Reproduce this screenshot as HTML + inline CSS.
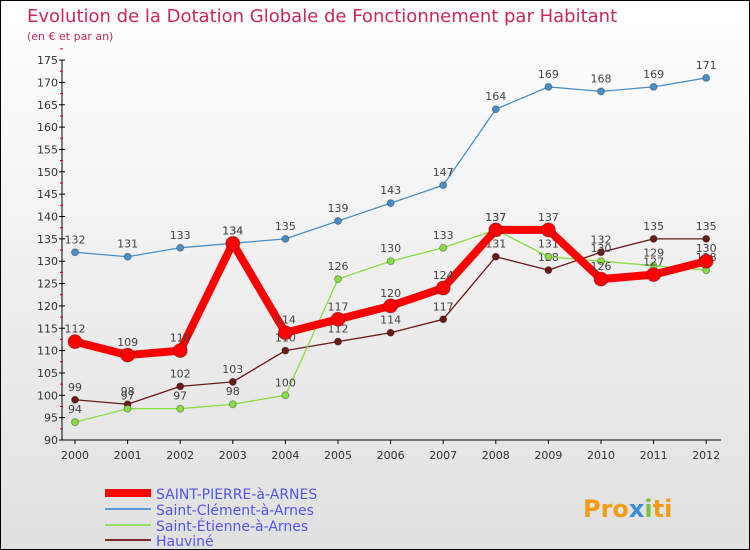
<!DOCTYPE html>
<html><head><meta charset="utf-8"><style>
body{margin:0}
#wrap{width:748px;height:548px;border:1px solid #000;position:relative;background:linear-gradient(#fff,#e0e0e0);font-family:"DejaVu Sans","Liberation Sans",sans-serif;overflow:hidden}
</style></head><body>
<div id="wrap">
<svg width="748" height="548" id="svg">
<text x="26" y="21" font-size="18" fill="#c8285a">Evolution de la Dotation Globale de Fonctionnement par Habitant</text>
<text x="26" y="39" font-size="11" fill="#c8285a">(en € et par an)</text>
<g id="axes"></g><g id="series"></g>
<g>
<line x1="104" y1="492" x2="150" y2="492" stroke="#f00" stroke-width="8"/>
<text x="155" y="498" font-size="14" fill="#5555ee">SAINT-PIERRE-à-ARNES</text>
<line x1="104" y1="508" x2="150" y2="508" stroke="#5b9bd5" stroke-width="2"/>
<text x="155" y="514" font-size="14" fill="#5555ee">Saint-Clément-à-Arnes</text>
<line x1="104" y1="524" x2="150" y2="524" stroke="#99dd66" stroke-width="2"/>
<text x="155" y="530" font-size="14" fill="#5555ee">Saint-Étienne-à-Arnes</text>
<line x1="104" y1="539" x2="150" y2="539" stroke="#7a2a2a" stroke-width="2"/>
<text x="155" y="545" font-size="14" fill="#5555ee">Hauviné</text>
</g>
<text x="582" y="516" font-size="24" font-weight="bold" fill="#f39c12">Pro<tspan fill="#3a8fd6">x</tspan><tspan fill="#7cc242">i</tspan>ti</text>
</svg>
</div>
<script>
const years=[2000,2001,2002,2003,2004,2005,2006,2007,2008,2009,2010,2011,2012];
const yTicks=[90,95,100,105,110,115,120,125,130,135,140,145,150,155,160,165,170,175];
const stPierre=[112,109,110,134,114,117,120,124,137,137,126,127,130];
const stClement=[132,131,133,134,135,139,143,147,164,169,168,169,171];
const stEtienne=[94,97,97,98,100,126,130,133,137,131,130,129,128];
const hauvine=[99,98,102,103,110,112,114,117,131,128,132,135,135];
const NS="http://www.w3.org/2000/svg";
const xS=y=>74+(y-2000)*52.6;
const yS=v=>439-(v-90)*4.47;
function mk(t,a,p){const e=document.createElementNS(NS,t);for(const k in a)e.setAttribute(k,a[k]);p.appendChild(e);return e;}
const ax=document.getElementById('axes');
const axl=mk('line',{x1:61,y1:yS(175),x2:61,y2:yS(90),stroke:'#000'},ax);


const bl=mk('line',{x1:61,y1:yS(90),x2:720,y2:yS(90),stroke:'#000'},ax);


yTicks.forEach(v=>{
 mk('line',{x1:58,y1:yS(v),x2:64,y2:yS(v),stroke:'#000'},ax);
 mk('line',{x1:59,y1:yS(v+2.5),x2:62,y2:yS(v+2.5),stroke:'#d00'},ax);
 const t=mk('text',{x:57,y:yS(v)+4,'font-size':11,fill:'#333','text-anchor':'end'},ax);t.textContent=v;
 
 
});
years.forEach(y=>{
 mk('line',{x1:xS(y),y1:yS(90),x2:xS(y),y2:yS(90)+4,stroke:'#000'},ax);
 const t=mk('text',{x:xS(y),y:yS(90)+19,'font-size':11,fill:'#333','text-anchor':'middle'},ax);t.textContent=y;
 
 
});
const sg=document.getElementById('series');
function series(vals,col,w,r,name){
 const g=mk('g',{},sg);
 
 
 const pl=mk('polyline',{points:vals.map((v,i)=>xS(years[i])+','+yS(v)).join(' '),fill:'none',stroke:col,'stroke-width':w,'stroke-linejoin':'round'},g);
 
 
 vals.forEach((v,i)=>{
  const c=mk('circle',{cx:xS(years[i]),cy:yS(v),r:r,fill:col,stroke:'rgba(0,0,0,0.3)'},g);
  
  
  const t=mk('text',{x:xS(years[i]),y:yS(v)-9,'font-size':11,fill:'#444','text-anchor':'middle'},g);t.textContent=v;
  
  
 });
}
series(hauvine,'#6b1a1a',1.3,3.5,'series-hauvine');
series(stEtienne,'#88dd44',1.3,3.5,'series-saint-etienne');
series(stClement,'#4a90c8',1.3,3.5,'series-saint-clement');
series(stPierre,'#f00',8,7,'series-saint-pierre');
</script>
</body></html>
